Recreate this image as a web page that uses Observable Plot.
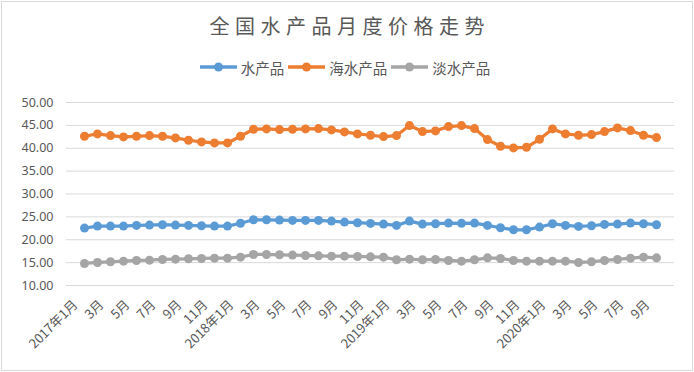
<!DOCTYPE html>
<html><head><meta charset="utf-8">
<script src="https://cdn.jsdelivr.net/npm/d3@7"></script>
<script src="https://cdn.jsdelivr.net/npm/@observablehq/plot@0.6"></script>
<style>
html,body{margin:0;padding:0;background:#fff;}
#wrap{position:relative;width:694px;height:372px;overflow:hidden;font-family:"Noto Sans","Noto Sans CJK SC",sans-serif;}
#frame{position:absolute;left:1px;top:1px;width:690px;height:368px;border:1px solid #d9d9d9;pointer-events:none;}
#title{position:absolute;left:0;top:11px;width:694px;text-align:center;font-family:"Noto Sans CJK SC",sans-serif;font-size:20px;line-height:30px;letter-spacing:5.5px;color:#595959;padding-left:5.5px;box-sizing:border-box;}
#legend{position:absolute;left:0;top:56px;height:22px;width:694px;display:flex;justify-content:center;align-items:center;font-family:"Noto Sans CJK SC",sans-serif;font-size:14.5px;color:#595959;padding-right:4px;box-sizing:border-box;}
.item{display:flex;align-items:center;margin:0 2px;}
.item svg{margin-right:4px;}
#chart{position:absolute;left:0;top:0;}
</style></head>
<body><div id="wrap"><div id="chart"></div><div id="title">全国水产品月度价格走势</div><div id="legend"></div><div id="frame"></div></div>
<script>
const months = ["2017-01","2017-02","2017-03","2017-04","2017-05","2017-06","2017-07","2017-08","2017-09","2017-10","2017-11","2017-12",
"2018-01","2018-02","2018-03","2018-04","2018-05","2018-06","2018-07","2018-08","2018-09","2018-10","2018-11","2018-12",
"2019-01","2019-02","2019-03","2019-04","2019-05","2019-06","2019-07","2019-08","2019-09","2019-10","2019-11","2019-12",
"2020-01","2020-02","2020-03","2020-04","2020-05","2020-06","2020-07","2020-08","2020-09"];
const seriesNames = ["水产品","海水产品","淡水产品"];
const seriesColors = ["#5b9bd5","#ed7d31","#a5a5a5"];
const allAquatic = [22.55,22.99,22.99,22.99,23.13,23.21,23.28,23.21,23.13,23.06,22.99,22.99,
23.60,24.37,24.37,24.30,24.23,24.23,24.23,24.08,23.86,23.72,23.57,23.42,
23.13,24.08,23.42,23.50,23.64,23.58,23.64,23.13,22.62,22.18,22.18,22.77,
23.50,23.13,22.91,23.06,23.35,23.42,23.64,23.50,23.28];
const marine = [42.62,43.13,42.77,42.48,42.62,42.77,42.62,42.26,41.75,41.38,41.16,41.16,
42.62,44.15,44.23,44.08,44.15,44.23,44.30,44.01,43.57,43.13,42.84,42.55,
42.77,44.96,43.64,43.79,44.74,44.96,44.30,41.89,40.43,40.07,40.21,41.96,
44.23,43.13,42.84,42.99,43.64,44.45,43.86,42.84,42.33];
const freshwater = [14.81,15.03,15.18,15.32,15.47,15.54,15.69,15.76,15.84,15.91,15.98,15.98,
16.20,16.78,16.78,16.71,16.64,16.56,16.49,16.42,16.42,16.35,16.27,16.20,
15.62,15.76,15.62,15.69,15.47,15.32,15.62,16.05,15.91,15.47,15.32,15.32,
15.32,15.32,15.03,15.18,15.47,15.69,15.98,16.20,16.05];
const yTicks = [10,15,20,25,30,35,40,45,50];
const xTickMonths = ["2017-01","2017-03","2017-05","2017-07","2017-09","2017-11",
"2018-01","2018-03","2018-05","2018-07","2018-09","2018-11",
"2019-01","2019-03","2019-05","2019-07","2019-09","2019-11",
"2020-01","2020-03","2020-05","2020-07","2020-09"];
const xTickLabels = ["2017年1月","3月","5月","7月","9月","11月",
"2018年1月","3月","5月","7月","9月","11月",
"2019年1月","3月","5月","7月","9月","11月",
"2020年1月","3月","5月","7月","9月"];

const valueSets = [allAquatic, marine, freshwater];
const data = [];
seriesNames.forEach((s, k) => months.forEach((m, i) => data.push({m, series: s, v: valueSets[k][i]})));

const chart = Plot.plot({
  width: 694, height: 372,
  marginTop: 102, marginBottom: 87, marginLeft: 66, marginRight: 20,
  style: {fontFamily: '"Noto Sans","Noto Sans CJK SC",sans-serif', color: "#595959", background: "transparent"},
  x: {type: "point", domain: months, padding: 0.5},
  y: {domain: [10, 50]},
  color: {domain: seriesNames, range: seriesColors},
  marks: [
    Plot.gridY(yTicks, {stroke: "#d9d9d9", strokeOpacity: 1, strokeWidth: 1}),
    Plot.axisY(yTicks, {tickSize: 0, tickPadding: 13, fontSize: 12.5, tickFormat: d => d.toFixed(2), label: null}),
    Plot.axisX(xTickMonths, {tickSize: 0, tickPadding: 10, fontSize: 13, tickRotate: -45, textAnchor: "end",
      dx: -9, dy: 7,
      tickFormat: d => xTickLabels[xTickMonths.indexOf(d)], label: null, fontFamily: '"Noto Sans CJK SC",sans-serif'}),
    Plot.line(data, {x: "m", y: "v", z: "series", stroke: "series", strokeWidth: 3.25}),
    Plot.dot(data, {x: "m", y: "v", fill: "series", r: 4.5})
  ]
});
document.getElementById("chart").appendChild(chart);

const legend = document.getElementById("legend");
seriesNames.forEach((s, k) => {
  const it = document.createElement("div");
  it.className = "item";
  it.innerHTML = `<svg width="37" height="12"><line x1="0" y1="6" x2="37" y2="6" stroke="${seriesColors[k]}" stroke-width="3.5"/><circle cx="18.5" cy="6" r="4.5" fill="${seriesColors[k]}"/></svg><span>${s}</span>`;
  legend.appendChild(it);
});
</script></body></html>
